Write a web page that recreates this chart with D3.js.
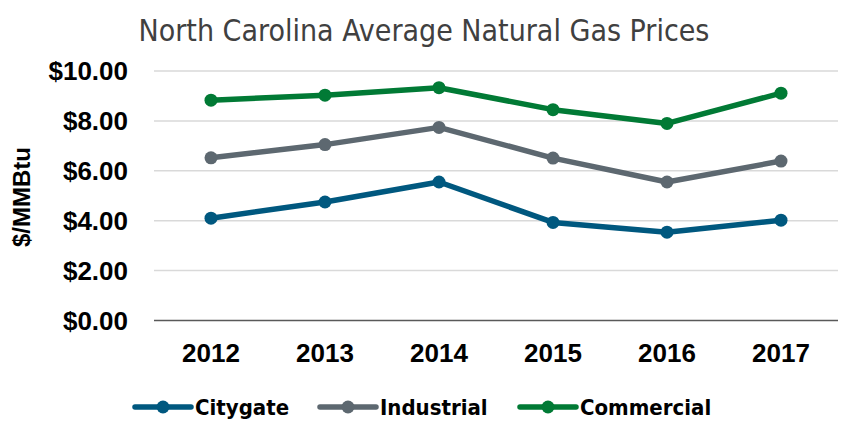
<!DOCTYPE html>
<html>
<head>
<meta charset="utf-8">
<script src="https://cdn.jsdelivr.net/npm/d3@7"></script>
<style>
  body { margin: 0; background: #fff; }
  svg { display: block; }
</style>
</head>
<body>
<svg id="chart" width="842" height="421"></svg>
<script>
const years = ["2012", "2013", "2014", "2015", "2016", "2017"];
const citygate = [4.10, 4.75, 5.55, 3.93, 3.54, 4.02];
const industrial = [6.52, 7.05, 7.74, 6.51, 5.55, 6.39];
const commercial = [8.83, 9.03, 9.33, 8.45, 7.90, 9.11];
const yTicks = [0, 2, 4, 6, 8, 10];

const series = [
    { name: "Citygate", values: citygate, color: "#00587F" },
    { name: "Industrial", values: industrial, color: "#5D6870" },
    { name: "Commercial", values: commercial, color: "#017A35" }
];

const narrow = "'Liberation Sans Narrow', 'DejaVu Sans Condensed', 'Arial Narrow', sans-serif";
const sans = "'Liberation Sans', Arial, sans-serif";

const svg = d3.select("#chart");

const x = d3.scalePoint()
    .domain(years)
    .range([154, 838])
    .padding(0.5);

const y = d3.scaleLinear()
    .domain([0, 10])
    .range([320.5, 71]);

// title
svg.append("text")
    .attr("x", 424)
    .attr("y", 30)
    .attr("dy", "0.35em")
    .attr("text-anchor", "middle")
    .attr("fill", "#404040")
    .style("font-family", narrow)
    .style("font-size", "30px")
    .text("North Carolina Average Natural Gas Prices");

// gridlines
svg.append("g")
    .selectAll("line")
    .data(yTicks.filter(d => d > 0))
    .enter().append("line")
    .attr("x1", 154)
    .attr("x2", 838)
    .attr("y1", d => y(d))
    .attr("y2", d => y(d))
    .attr("stroke", "#D9D9D9")
    .attr("stroke-width", 1.5);

// baseline
svg.append("line")
    .attr("x1", 154)
    .attr("x2", 838)
    .attr("y1", y(0))
    .attr("y2", y(0))
    .attr("stroke", "#595959")
    .attr("stroke-width", 1.5);

// y tick labels
svg.append("g")
    .selectAll("text")
    .data(yTicks)
    .enter().append("text")
    .attr("x", 128)
    .attr("y", d => y(d))
    .attr("dy", "0.35em")
    .attr("text-anchor", "end")
    .attr("fill", "#000")
    .style("font-family", sans)
    .style("font-weight", "bold")
    .style("font-size", "26px")
    .text(d => "$" + d3.format(".2f")(d));

// x tick labels
svg.append("g")
    .selectAll("text")
    .data(years)
    .enter().append("text")
    .attr("x", d => x(d))
    .attr("y", 353)
    .attr("dy", "0.35em")
    .attr("text-anchor", "middle")
    .attr("fill", "#000")
    .style("font-family", sans)
    .style("font-weight", "bold")
    .style("font-size", "26px")
    .text(d => d);

// y axis title
svg.append("text")
    .attr("transform", "translate(22, 197) rotate(-90)")
    .attr("dy", "0.35em")
    .attr("text-anchor", "middle")
    .attr("fill", "#000")
    .style("font-family", sans)
    .style("font-weight", "bold")
    .style("font-size", "24px")
    .text("$/MMBtu");

// lines + markers
const line = d3.line()
    .x((d, i) => x(years[i]))
    .y(d => y(d));

series.forEach(s => {
    const g = svg.append("g");
    g.append("path")
        .datum(s.values)
        .attr("d", line)
        .attr("fill", "none")
        .attr("stroke", s.color)
        .attr("stroke-width", 5.5)
        .attr("stroke-linejoin", "round");

    g.selectAll("circle")
        .data(s.values)
        .enter().append("circle")
        .attr("cx", (d, i) => x(years[i]))
        .attr("cy", d => y(d))
        .attr("r", 6.5)
        .attr("fill", s.color);
});

// legend
const legendX = [135, 320, 520];
const legend = svg.append("g")
    .selectAll("g")
    .data(series)
    .enter().append("g")
    .attr("transform", (d, i) => `translate(${legendX[i]}, 407)`);

legend.append("line")
    .attr("x1", 0)
    .attr("x2", 56)
    .attr("stroke", d => d.color)
    .attr("stroke-width", 5.5)
    .attr("stroke-linecap", "round");

legend.append("circle")
    .attr("cx", 28)
    .attr("r", 6.5)
    .attr("fill", d => d.color);

legend.append("text")
    .attr("x", 60)
    .attr("dy", "0.35em")
    .attr("fill", "#000")
    .style("font-family", narrow)
    .style("font-weight", "bold")
    .style("font-size", "22px")
    .text(d => d.name);
</script>
</body>
</html>
